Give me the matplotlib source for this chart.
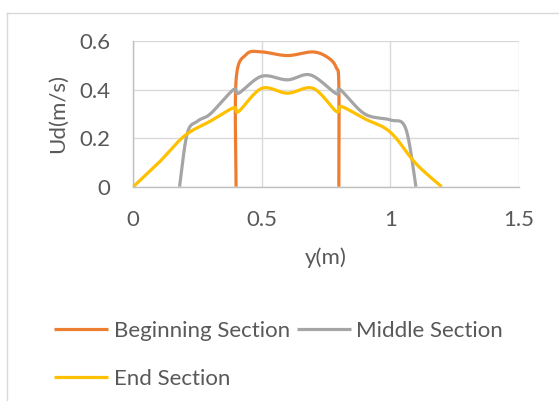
import numpy as np
import matplotlib
matplotlib.use("Agg")
import matplotlib.pyplot as plt
from matplotlib.lines import Line2D

plt.rcParams['font.family'] = ['Lato', 'DejaVu Sans']

# Velocity profiles across the channel width
beg_x = [0.40, 0.40, 0.44, 0.50, 0.60, 0.70, 0.76, 0.79, 0.80, 0.80]
beg_y = [0.00, 0.44, 0.545, 0.555, 0.54, 0.555, 0.53, 0.49, 0.42, 0.00]

mid_x = [0.18, 0.21, 0.25, 0.30, 0.39, 0.41, 0.50, 0.60, 0.69, 0.79, 0.805, 0.90, 1.00, 1.06, 1.10]
mid_y = [0.00, 0.22, 0.27, 0.30, 0.40, 0.385, 0.455, 0.44, 0.46, 0.383, 0.40, 0.30, 0.275, 0.24, 0.00]

end_x = [0.00, 0.10, 0.20, 0.30, 0.39, 0.41, 0.50, 0.60, 0.70, 0.79, 0.81, 0.90, 1.00, 1.10, 1.20]
end_y = [0.00, 0.10, 0.21, 0.27, 0.325, 0.31, 0.405, 0.385, 0.405, 0.31, 0.33, 0.28, 0.225, 0.095, 0.00]

labels = ["Beginning Section", "Middle Section", "End Section"]
colors = ["#ED7D31", "#A5A5A5", "#FFC000"]

x_ticks = [0, 0.5, 1, 1.5]
x_tick_labels = ["0", "0.5", "1", "1.5"]
y_ticks = [0, 0.2, 0.4, 0.6]
y_tick_labels = ["0", "0.2", "0.4", "0.6"]


def smooth(xs, ys, n=30):
    """Cubic Bezier smoothing through every point (Catmull-Rom tangents)."""
    p = np.column_stack([xs, ys]).astype(float)
    ext = np.vstack([p[0], p, p[-1]])
    out = [p[0]]
    t = np.linspace(0, 1, n)[1:, None]
    for i in range(len(p) - 1):
        p0, p1, p2, p3 = ext[i], ext[i + 1], ext[i + 2], ext[i + 3]
        c1 = p1 + (p2 - p0) / 6.0
        c2 = p2 - (p3 - p1) / 6.0
        seg = ((1 - t) ** 3) * p1 + 3 * ((1 - t) ** 2) * t * c1 + 3 * (1 - t) * t ** 2 * c2 + t ** 3 * p2
        out.extend(seg)
    out = np.array(out)
    return out[:, 0], out[:, 1]


W, H = 559, 401
FS = 16
fig = plt.figure(figsize=(W / 100, H / 100), dpi=100)

# chart frame
fig.add_artist(Line2D([6.5 / W, 6.5 / W], [0, 1 - 12.5 / H], transform=fig.transFigure,
                      color="#D9D9D9", lw=1.0))
fig.add_artist(Line2D([6.5 / W, 1], [1 - 12.5 / H, 1 - 12.5 / H], transform=fig.transFigure,
                      color="#D9D9D9", lw=1.0))

left, right = 133.3 / W, 518.7 / W
bottom, top = 1 - 186.7 / H, 1 - 41.0 / H
ax = fig.add_axes([left, bottom, right - left, top - bottom])

series = [(beg_x, beg_y), (mid_x, mid_y), (end_x, end_y)]
handles = []
for (xs, ys), lab, col in zip(series, labels, colors):
    sx, sy = smooth(xs, ys)
    h, = ax.plot(sx, sy, color=col, lw=2.3, label=lab, solid_capstyle='butt',
                 solid_joinstyle='round', clip_on=False)
    handles.append(h)

ax.set_xlim(0, 1.5)
ax.set_ylim(0, 0.6)
ax.set_xticks(x_ticks)
ax.set_xticklabels(x_tick_labels)
ax.set_yticks(y_ticks)
ax.set_yticklabels(y_tick_labels)
ax.grid(True, color="#D9D9D9", lw=1.0)
ax.set_axisbelow(True)
for s in ["top", "right"]:
    ax.spines[s].set_visible(False)
for s in ["left", "bottom"]:
    ax.spines[s].set_color("#BFBFBF")
    ax.spines[s].set_linewidth(1.0)
ax.tick_params(length=0, labelsize=FS, labelcolor="#595959")
ax.tick_params(axis='x', pad=17)
ax.tick_params(axis='y', pad=16.5)

ax.set_xlabel("y(m)", fontsize=FS, color="#595959")
ax.set_ylabel("Ud(m/s)", fontsize=FS, color="#595959")
ax.xaxis.set_label_coords(0.5, (186.7 - 258) / 145.7)
ax.yaxis.set_label_coords((58 - 133.3) / 385.4, 0.5)
ax.xaxis.label.set_va('center')
ax.yaxis.label.set_va('center')

leg = fig.legend([handles[0], handles[2], handles[1]],
                 [labels[0], labels[2], labels[1]],
                 ncol=2, loc="upper left", bbox_to_anchor=(54 / W, 1 - 321 / H),
                 frameon=False, fontsize=FS, labelcolor="#595959",
                 handlelength=2.43, handletextpad=0.25, columnspacing=0.32,
                 labelspacing=1.24, borderpad=0, borderaxespad=0)

fig.savefig("out.png", dpi=100)
